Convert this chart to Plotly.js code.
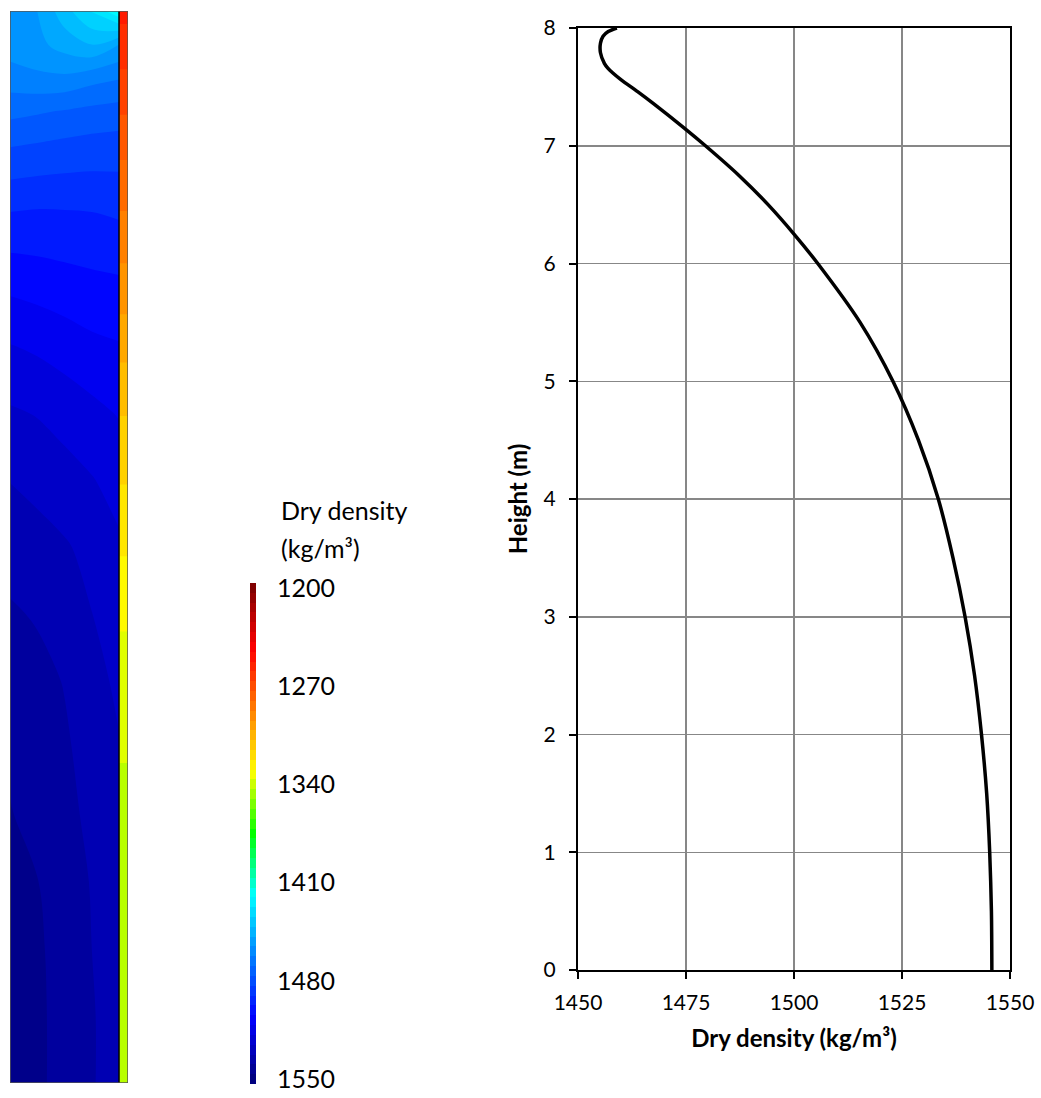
<!DOCTYPE html>
<html>
<head>
<meta charset="utf-8">
<script src="https://cdn.plot.ly/plotly-3.0.1.min.js"></script>
<style>
  html, body { margin: 0; padding: 0; background: #ffffff; }
  #chart { width: 1041px; height: 1098px; }
</style>
</head>
<body>
<div id="chart"></div>
<script>
// Dry-density profile along the left edge of the column (height in m, density in kg/m³)
const profileHeight = [0, 0.5, 1, 1.5, 2, 2.5, 3, 3.5, 4, 4.5, 5, 5.5, 6, 6.25, 6.5, 6.75,
                       7, 7.15, 7.36, 7.46, 7.56, 7.62, 7.66, 7.7, 7.79, 7.87, 7.93, 7.97, 8];
const profileDensity = [1545.8, 1545.7, 1545.3, 1544.6, 1543.4, 1541.8, 1539.6, 1536.8, 1533.4,
                        1528.8, 1522.9, 1515.3, 1505.5, 1500.0, 1494.0, 1487.2, 1479.5, 1474.6,
                        1467.4, 1463.8, 1460.0, 1458.0, 1456.9, 1456.1, 1455.2, 1455.2, 1455.8,
                        1457.0, 1459.0];

// Dry-density field over the column section (x in m from the axis, height in m)
const fieldX = [0, 0.2, 0.4, 0.6, 0.8];
const fieldHeight = [0, 0.5, 1, 1.5, 2, 2.5, 3, 3.5, 4, 4.5, 5, 5.5, 6, 6.5, 7, 7.25, 7.5, 7.75, 8];
const fieldDensity = [
  [1545.8, 1544.2, 1540.8, 1536.5, 1533.0],
  [1545.7, 1544.2, 1540.8, 1536.5, 1533.0],
  [1545.3, 1544.0, 1540.4, 1536.0, 1532.5],
  [1544.6, 1543.2, 1539.4, 1535.6, 1532.0],
  [1543.4, 1540.7, 1537.8, 1534.6, 1531.0],
  [1541.8, 1539.5, 1536.9, 1533.5, 1529.5],
  [1539.6, 1537.9, 1535.7, 1531.7, 1527.5],
  [1536.8, 1535.4, 1532.3, 1529.1, 1525.5],
  [1533.4, 1531.9, 1529.8, 1526.8, 1523.0],
  [1528.8, 1526.8, 1524.6, 1522.4, 1519.5],
  [1522.9, 1521.6, 1519.5, 1517.0, 1514.5],
  [1515.3, 1513.8, 1511.7, 1509.6, 1508.5],
  [1505.5, 1504.3, 1503.2, 1502.2, 1501.5],
  [1494.0, 1494.6, 1494.4, 1494.0, 1493.0],
  [1479.5, 1480.5, 1481.6, 1482.5, 1483.0],
  [1471.0, 1472.2, 1473.6, 1475.0, 1476.0],
  [1462.2, 1460.5, 1460.4, 1463.5, 1465.5],
  [1455.7, 1454.0, 1449.0, 1445.0, 1452.0],
  [1459.0, 1452.0, 1441.0, 1430.0, 1418.0]
];

// Thin outer layer next to the column
const layerX = [0.8, 0.866];
const layerHeight = [0, 1.37, 1.96, 2.56, 3.08, 3.6, 4.13, 4.72, 5.17, 5.84, 6.84, 8];
const layerDensity = [1344, 1344, 1342.5, 1339, 1335.5, 1331, 1323, 1316, 1309, 1296, 1278, 1254];

// Colour key
const keyTicks = [1200, 1270, 1340, 1410, 1480, 1550];
const bandSize = 7;

// Rainbow scale running from dark red (low density) to navy (high density)
const rainbow = [
  [0, 'rgb(128,0,0)'], [0.125, 'rgb(255,0,0)'], [0.375, 'rgb(255,255,0)'],
  [0.5, 'rgb(0,255,0)'], [0.625, 'rgb(0,255,255)'], [0.875, 'rgb(0,0,255)'],
  [1, 'rgb(0,0,128)']
];
const zMin = keyTicks[0];
const zMax = keyTicks[keyTicks.length - 1];
const bands = { start: zMin, end: zMax, size: bandSize, coloring: 'fill', showlines: false };

const keyLevels = [];
for (let v = zMin; v <= zMax; v += bandSize) keyLevels.push(v);

const FONT = 'Lato, "Open Sans", sans-serif';

const traces = [
  {
    type: 'contour', x: fieldX, y: fieldHeight, z: fieldDensity,
    xaxis: 'x', yaxis: 'y', colorscale: rainbow, zmin: zMin, zmax: zMax,
    contours: bands, line: { width: 0 }, showscale: false, hoverinfo: 'skip'
  },
  {
    type: 'contour', x: layerX, y: layerHeight,
    z: layerDensity.map(v => [v, v]),
    xaxis: 'x', yaxis: 'y', colorscale: rainbow, zmin: zMin, zmax: zMax,
    contours: bands, line: { width: 0 }, showscale: false, hoverinfo: 'skip'
  },
  {
    type: 'heatmap', x: [0], y: keyLevels, z: keyLevels.map(v => [v]),
    xaxis: 'x3', yaxis: 'y3', colorscale: rainbow, zmin: zMin, zmax: zMax,
    showscale: false, hoverinfo: 'skip'
  },
  {
    type: 'scatter', mode: 'lines', x: profileDensity, y: profileHeight,
    xaxis: 'x2', yaxis: 'y2',
    line: { color: '#000000', width: 3.5, shape: 'spline', smoothing: 0.8 }
  }
];

const W = 1041, H = 1098;
const px = v => v / W;
const py = v => (H - v) / H;

const layout = {
  width: W, height: H,
  margin: { l: 0, r: 0, t: 0, b: 0 },
  paper_bgcolor: '#ffffff', plot_bgcolor: 'rgba(0,0,0,0)',
  font: { family: FONT, color: '#000000' },
  showlegend: false,
  xaxis: { domain: [px(10), px(128)], range: [0, 0.866], visible: false, fixedrange: true },
  yaxis: { domain: [py(1083), py(11)], range: [0, 8], visible: false, fixedrange: true },
  xaxis2: {
    domain: [px(578), px(1010)], anchor: 'y2', range: [1450, 1550],
    tickvals: [1450, 1475, 1500, 1525, 1550],
    ticks: 'outside', ticklen: 7, tickwidth: 2, tickcolor: '#000000',
    showline: true, linecolor: '#000000', linewidth: 2, mirror: true,
    showgrid: true, gridcolor: '#878787', gridwidth: 1.5, zeroline: false,
    tickfont: { size: 21 }, ticklabelstandoff: 6,
    title: { text: '<b>Dry density (kg/m³)</b>', font: { size: 24 }, standoff: 17 }
  },
  yaxis2: {
    domain: [py(970), py(28)], anchor: 'x2', range: [0, 8], dtick: 1,
    ticks: 'outside', ticklen: 7, tickwidth: 2, tickcolor: '#000000',
    showline: true, linecolor: '#000000', linewidth: 2, mirror: true,
    showgrid: true, gridcolor: '#878787', gridwidth: 1.5, zeroline: false,
    tickfont: { size: 21 }, ticklabelstandoff: 9,
    title: { text: '<b>Height (m)</b>', font: { size: 24 }, standoff: 9 }
  },
  xaxis3: { domain: [px(250), px(256)], anchor: 'y3', range: [-0.5, 0.5], visible: false, fixedrange: true },
  yaxis3: {
    domain: [py(1084), py(583)], anchor: 'x3', side: 'right',
    range: [zMax + bandSize / 2, zMin - bandSize / 2],
    tickvals: keyTicks, ticks: '', showline: false, showgrid: false, zeroline: false,
    tickfont: { size: 25 }, ticklabelstandoff: 20, fixedrange: true
  },
  shapes: [
    { type: 'line', xref: 'x', yref: 'y', x0: 0.8, x1: 0.8, y0: 0, y1: 8,
      line: { color: '#000000', width: 1.5 } },
    { type: 'rect', xref: 'x', yref: 'y', x0: 0, x1: 0.866, y0: 0, y1: 8,
      line: { color: '#555555', width: 1.5 } }
  ],
  annotations: [
    { text: 'Dry density', xref: 'paper', yref: 'paper', x: px(279), y: py(510),
      xanchor: 'left', yanchor: 'middle', showarrow: false, font: { size: 25 } },
    { text: '(kg/m³)', xref: 'paper', yref: 'paper', x: px(279), y: py(548),
      xanchor: 'left', yanchor: 'middle', showarrow: false, font: { size: 25 } }
  ]
};

Plotly.newPlot('chart', traces, layout, { staticPlot: true, displayModeBar: false });
</script>
</body>
</html>
